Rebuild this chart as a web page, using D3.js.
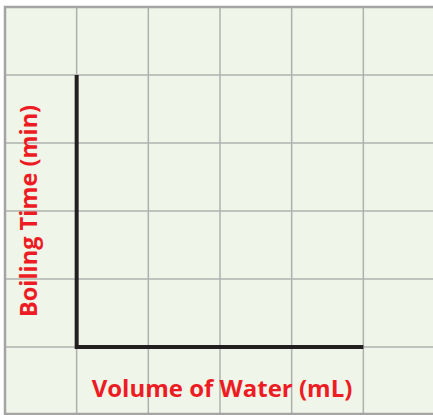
<!DOCTYPE html>
<html lang="en">
<head>
  <meta charset="UTF-8">
  <script src="https://cdnjs.cloudflare.com/ajax/libs/d3/7.8.5/d3.min.js"></script>
  <style>
    body { margin: 0; background: #fff; }
  </style>
</head>
<body>
<div id="container"></div>
<script>
// Grid units (blank graph paper)
const xGrid = [0, 1, 2, 3, 4, 5, 6];
const yGrid = [0, 1, 2, 3, 4, 5, 6];
// Axis extent in grid units
const xAxisRange = [1, 5];
const yAxisRange = [1, 5];
const xLabel = "Volume of Water (mL)";
const yLabel = "Boiling Time (min)";

const width = 433;
const height = 415;

const svg = d3.create("svg")
    .attr("width", width)
    .attr("height", height);

const x = d3.scaleLinear().domain([0, 6]).range([5, 435]);
const y = d3.scaleLinear().domain([0, 6]).range([415, 7]);

// paper background
svg.append("rect")
    .attr("x", x(0))
    .attr("y", y(6))
    .attr("width", x(6) - x(0))
    .attr("height", y(0) - y(6))
    .attr("fill", "#eff5e8");

// grid lines
svg.append("g")
    .selectAll("line")
    .data(xGrid.slice(1, -1))
    .join("line")
    .attr("x1", d => x(d))
    .attr("x2", d => x(d))
    .attr("y1", y(6))
    .attr("y2", y(0))
    .attr("stroke", "#b0b0b0")
    .attr("stroke-width", 1.5);

svg.append("g")
    .selectAll("line")
    .data(yGrid.slice(1, -1))
    .join("line")
    .attr("y1", d => y(d))
    .attr("y2", d => y(d))
    .attr("x1", x(0))
    .attr("x2", x(6))
    .attr("stroke", "#b0b0b0")
    .attr("stroke-width", 1.5);

// outer border (left, top, bottom)
svg.append("path")
    .attr("d", `M${x(6)},${y(6)} H${x(0)} V${y(0) - 1} H${x(6)}`)
    .attr("fill", "none")
    .attr("stroke", "#a4a4a4")
    .attr("stroke-width", 2.5);

// axes
svg.append("path")
    .attr("d", `M${x(xAxisRange[0])},${y(yAxisRange[1])} V${y(yAxisRange[0])} H${x(xAxisRange[1])}`)
    .attr("fill", "none")
    .attr("stroke", "#231f20")
    .attr("stroke-width", 4);

// labels
svg.append("text")
    .attr("x", 222)
    .attr("y", 397)
    .attr("text-anchor", "middle")
    .attr("font-family", "'Open Sans', sans-serif")
    .attr("font-weight", "bold")
    .attr("font-size", 24)
    .attr("fill", "#ed1c24")
    .text(xLabel);

svg.append("text")
    .attr("transform", "translate(37,211) rotate(-90)")
    .attr("text-anchor", "middle")
    .attr("font-family", "'Open Sans', sans-serif")
    .attr("font-weight", "bold")
    .attr("font-size", 23.5)
    .attr("fill", "#ed1c24")
    .text(yLabel);

document.getElementById("container").appendChild(svg.node());
</script>
</body>
</html>
